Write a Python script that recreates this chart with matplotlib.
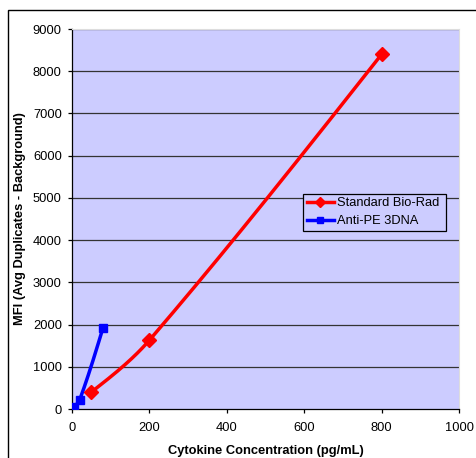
import numpy as np
import matplotlib
matplotlib.use("Agg")
import matplotlib.pyplot as plt
from matplotlib.patches import Rectangle

plt.rcParams['font.family'] = ['Liberation Sans', 'DejaVu Sans']

# Data
std_x = [50, 200, 800]
std_y = [400, 1630, 8400]
dna_x = [5, 20, 80]
dna_y = [50, 220, 1920]
series_labels = ["Standard Bio-Rad", "Anti-PE 3DNA"]
xticks = [0, 200, 400, 600, 800, 1000]
yticks = list(range(0, 9001, 1000))

XMAX, YMAX = 1000, 9000
SX, SY = 387.0, 380.0  # pixel scale for smoothing

def smooth(xs, ys, n=80):
    # Smoothed line (Hermite, chord-scaled tangents, natural ends) in display space
    P = np.array([[x / XMAX * SX, y / YMAX * SY] for x, y in zip(xs, ys)])
    N = len(P)
    L = [np.linalg.norm(P[i + 1] - P[i]) for i in range(N - 1)]
    # unit tangents at interior points
    U = [None] * N
    for i in range(1, N - 1):
        d = P[i + 1] - P[i - 1]
        U[i] = d / np.linalg.norm(d)
    pts = []
    for i in range(N - 1):
        p1, p2 = P[i], P[i + 1]
        m1 = U[i] * L[i] if U[i] is not None else None
        m2 = U[i + 1] * L[i] if U[i + 1] is not None else None
        d = p2 - p1
        if m1 is None and m2 is None:
            m1 = m2 = d
        elif m1 is None:
            m1 = (3 * d - m2) / 2
        elif m2 is None:
            m2 = (3 * d - m1) / 2
        c1 = p1 + m1 / 3
        c2 = p2 - m2 / 3
        t = np.linspace(0, 1, n)[:, None]
        seg = ((1 - t) ** 3) * p1 + 3 * ((1 - t) ** 2) * t * c1 + 3 * (1 - t) * t ** 2 * c2 + t ** 3 * p2
        pts.append(seg if i == 0 else seg[1:])
    pts = np.vstack(pts)
    return pts[:, 0] / SX * XMAX, pts[:, 1] / SY * YMAX

FS = 9.3

fig = plt.figure(figsize=(4.76, 4.58), dpi=100)
ax = fig.add_axes([72 / 476, 1 - 409 / 458, 387 / 476, 380 / 458])
ax.set_facecolor('#CCCCFF')

fig.patches.append(Rectangle((8 / 476, -0.1), 2, 1 - 10 / 458 + 0.1, transform=fig.transFigure,
                             fill=False, edgecolor='black', linewidth=1.0))

for y in yticks[1:]:
    ax.axhline(y, color='#333333', linewidth=0.9, zorder=1)

sx, sy = smooth(std_x, std_y)
ax.plot(sx, sy, color='#FF0000', linewidth=2.5, zorder=3, solid_capstyle='round')
ax.plot(std_x, std_y, linestyle='none', marker='D', markersize=7, color='#FF0000', zorder=4)
bx, by = smooth(dna_x, dna_y)
ax.plot(bx, by, color='#0000FF', linewidth=2.5, zorder=3)
ax.plot(dna_x, dna_y, linestyle='none', marker='s', markersize=5.5, color='#0000FF', zorder=4)

# legend handles
h1, = ax.plot([], [], color='#FF0000', linewidth=2.5, marker='D', markersize=5)
h2, = ax.plot([], [], color='#0000FF', linewidth=2.5, marker='s', markersize=4)
leg = ax.legend([h1, h2], series_labels, loc='lower left', bbox_to_anchor=(0.597, 0.468, 0.369, 0.1),
                mode='expand', fontsize=FS, frameon=True, fancybox=False, borderaxespad=0,
                handlelength=2.1, handletextpad=0.2, borderpad=0.3, labelspacing=0.45)
leg.get_frame().set_edgecolor('black')
leg.get_frame().set_facecolor('#CCCCFF')
leg.get_frame().set_linewidth(0.9)
leg.get_frame().set_alpha(1)

ax.set_xlim(0, XMAX)
ax.set_ylim(0, YMAX)
ax.set_xticks(xticks)
ax.set_yticks(yticks)
ax.tick_params(axis='both', direction='out', length=3, width=0.9, labelsize=FS, colors='black')
ax.tick_params(axis='y', pad=4.3)
ax.tick_params(axis='x', pad=6.5)
for s in ['top', 'right']:
    ax.spines[s].set_color('#DDDDDD')
    ax.spines[s].set_linewidth(0.8)
for s in ['left', 'bottom']:
    ax.spines[s].set_color('black')
    ax.spines[s].set_linewidth(0.9)

ax.set_xlabel('Cytokine Concentration (pg/mL)', fontsize=FS, fontweight='bold', labelpad=8)
ax.set_ylabel('MFI (Avg Duplicates - Background)', fontsize=FS, fontweight='bold', labelpad=5)

fig.savefig('out.png', dpi=100, facecolor='white')
